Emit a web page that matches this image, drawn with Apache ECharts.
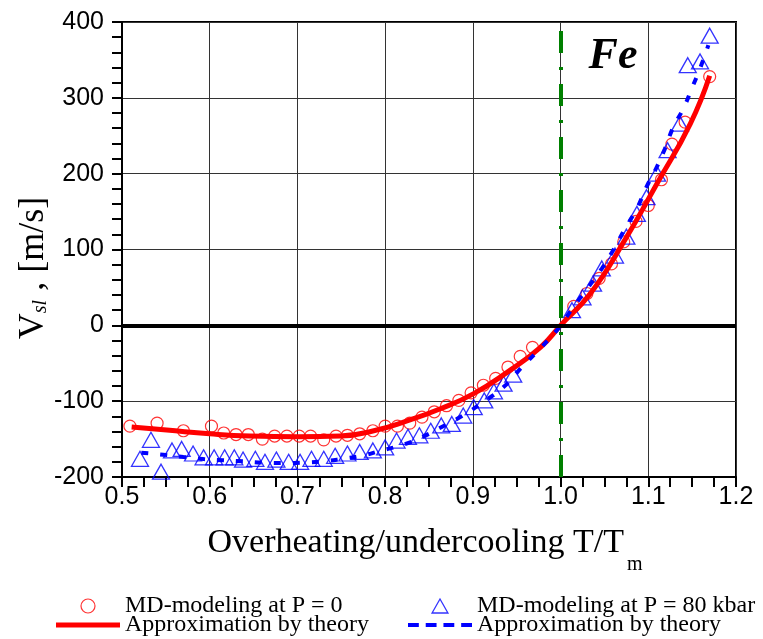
<!DOCTYPE html>
<html>
<head>
<meta charset="utf-8">
<script src="https://cdn.jsdelivr.net/npm/echarts@6/dist/echarts.min.js"></script>
<style>html,body{margin:0;padding:0;background:#fff;}#c{width:763px;height:639px;}</style>
</head>
<body>
<div id="c"></div>
<script>
// MD-modeling at P = 0 (red circles)
const xMd0 = [0.509,0.540,0.570,0.602,0.616,0.630,0.644,0.660,0.674,0.688,0.702,0.715,0.730,0.744,0.757,0.771,0.786,0.800,0.814,0.828,0.842,0.856,0.870,0.884,0.898,0.912,0.926,0.940,0.954,0.968,1.015,1.030,1.044,1.058,1.072,1.086,1.100,1.115,1.127,1.142,1.170];
const yMd0 = [-133,-129,-139,-133,-142,-144,-144,-150,-146,-146,-146,-146,-151,-146,-145,-143,-139,-133,-133,-129,-121,-114,-106,-99,-89,-79,-70,-55,-41,-29,25,42,62,81,110,137,158,192,239,268,328];
// MD-modeling at P = 80 kbar (blue triangles)
const xMd80 = [0.5205,0.533,0.5445,0.557,0.568,0.581,0.593,0.605,0.617,0.628,0.638,0.652,0.663,0.676,0.690,0.703,0.716,0.730,0.743,0.757,0.771,0.786,0.800,0.813,0.826,0.839,0.852,0.864,0.876,0.889,0.901,0.913,0.924,0.935,0.946,1.013,1.025,1.037,1.047,1.062,1.075,1.087,1.098,1.110,1.122,1.136,1.145,1.159,1.170];
const yMd80 = [-176,-151,-193,-165,-163,-169,-174,-174,-174,-174,-177,-176,-180,-177,-180,-180,-176,-176,-172,-169,-167,-165,-161,-152,-147,-145,-139,-132,-130,-119,-108,-99,-87,-77,-65,20,37,55,75,92,117,147,169,200,231,266,343,348,382];
// Approximation by theory, P = 0 (red solid)
const xTh0 = [0.511,0.551,0.600,0.646,0.701,0.749,0.787,0.825,0.863,0.901,0.939,0.977,1.000,1.034,1.072,1.110,1.148,1.170];
const yTh0 = [-134,-138,-143,-146,-147,-146,-139,-126,-110,-90,-62,-29,0,42,110,187,266,329];
// Approximation by theory, P = 80 kbar (blue dotted)
const xTh80 = [0.522,0.547,0.570,0.593,0.6155,0.638,0.661,0.684,0.707,0.7295,0.752,0.775,0.796,0.819,0.842,0.8645,0.887,0.912,0.935,0.956,0.9766,0.9957,1.000,1.0146,1.0317,1.047,1.060,1.0735,1.087,1.098,1.1097,1.119,1.1286,1.140,1.1496,1.159,1.1685];
const yTh80 = [-168,-170.6,-173.7,-176.4,-178,-179.4,-181,-181.6,-181,-179.4,-175.9,-171.5,-165,-158,-147.4,-134,-120,-101,-81.4,-55,-30.7,-6.6,0,24,50.5,74.8,99,127.6,154,182.5,208.8,233,261.6,285.9,312.3,338.7,369.4];
// axis ticks
const xTicks = {min: 0.5, max: 1.2, step: 0.1};
const yTicks = {min: -200, max: 400, step: 100};
const meltingPoint = 1.0;
const zeroLevel = 0;
const elementLabel = 'Fe';

const zip = (a, b) => a.map((v, i) => [v, b[i]]);
const RED = '#ff0000', BLUE = '#0000ff', GREEN = '#008000';
const SERIF = '"Liberation Serif", "Times New Roman", serif';
const SANS = '"Liberation Sans", Arial, sans-serif';

const chart = echarts.init(document.getElementById('c'), null, {renderer: 'canvas'});
const names = {
  md0: 'MD-modeling at P = 0',
  md80: 'MD-modeling at P = 80 kbar',
  th0: 'Approximation by theory',
  th80: 'Approximation by theory '
};
const solidIcon = 'path://M0,0h64v5h-64z';
const dotIcon = 'path://M0,0h11v4h-11zM18,0h11v4h-11zM36,0h11v4h-11zM54,0h11v4h-11z';
const triIcon = 'path://M8.5,0L17,15L0,15Z';
const circIcon = 'path://M12,6A6,6,0,1,1,0,6A6,6,0,1,1,12,6Z';
const legendCommon = {
  orient: 'vertical', itemWidth: 64, itemHeight: 14, itemGap: -5, top: 589, height: 100,
  formatter: n => n.trim(),
  textStyle: {fontFamily: SERIF, fontSize: 24, color: '#000'},
  selectedMode: false
};
chart.setOption({
  animation: false,
  backgroundColor: '#fff',
  grid: {left: 122, right: 27, top: 22, bottom: 162, show: true, borderColor: '#000', borderWidth: 2, backgroundColor: 'transparent'},
  xAxis: {
    type: 'value', min: xTicks.min, max: xTicks.max, interval: xTicks.step,
    axisLine: {onZero: false, lineStyle: {color: '#000', width: 2}},
    axisTick: {length: 10, lineStyle: {color: '#000', width: 2}},
    minorTick: {show: true, splitNumber: 4, length: 10, lineStyle: {color: '#000', width: 2}},
    splitLine: {show: true, lineStyle: {color: '#333', width: 1}},
    axisLabel: {formatter: v => v.toFixed(1), fontFamily: SANS, fontSize: 25, color: '#000', margin: 8}
  },
  yAxis: {
    type: 'value', min: yTicks.min, max: yTicks.max, interval: yTicks.step,
    axisLine: {onZero: false, lineStyle: {color: '#000', width: 2}},
    axisTick: {length: 10, lineStyle: {color: '#000', width: 2}},
    minorTick: {show: true, splitNumber: 5, length: 10, lineStyle: {color: '#000', width: 2}},
    splitLine: {show: true, lineStyle: {color: '#333', width: 1}},
    axisLabel: {fontFamily: SANS, fontSize: 25, color: '#000', margin: 18}
  },
  legend: [
    Object.assign({left: 51, data: [
      {name: names.md0, icon: circIcon, itemStyle: {color: 'rgba(0,0,0,0)', borderColor: RED, borderWidth: 1.2}},
      {name: names.th0, icon: solidIcon, itemStyle: {color: RED, borderWidth: 0}}
    ]}, legendCommon),
    Object.assign({left: 403, data: [
      {name: names.md80, icon: triIcon, itemStyle: {color: 'rgba(0,0,0,0)', borderColor: BLUE, borderWidth: 1.3}},
      {name: names.th80, icon: dotIcon, itemStyle: {color: BLUE, borderWidth: 0}}
    ]}, legendCommon)
  ],
  graphic: [
    {type: 'text', x: 613, y: 57, silent: true,
     style: {text: elementLabel, font: 'italic bold 44px ' + SERIF, fill: '#000', align: 'center', verticalAlign: 'middle'}},
    {type: 'text', x: 425, y: 526, silent: true,
     style: {text: '{m|Overheating/undercooling T/T}{s|m}', align: 'center', verticalAlign: 'top',
       rich: {m: {fontFamily: SERIF, fontSize: 34, lineHeight: 34, verticalAlign: 'top', fill: '#000', color: '#000'},
              s: {fontFamily: SERIF, fontSize: 20, lineHeight: 20, padding: [29, 0, 0, 3], verticalAlign: 'top', fill: '#000', color: '#000'}}}},
    {type: 'text', x: 16, y: 268, rotation: Math.PI / 2, silent: true,
     style: {text: '{v|V}{s|sl}{v| , [m/s]}', align: 'center', verticalAlign: 'top',
       rich: {v: {fontFamily: SERIF, fontSize: 36, lineHeight: 36, verticalAlign: 'top', fill: '#000', color: '#000'},
              s: {fontFamily: SERIF, fontSize: 20, fontStyle: 'italic', lineHeight: 20, padding: [15, 0, 0, 0], verticalAlign: 'top', fill: '#000', color: '#000'}}}}
  ],
  series: [
    {
      type: 'line', name: 'refs', data: [], silent: true,
      markLine: {
        silent: true, symbol: 'none', label: {show: false}, animation: false,
        data: [
          {yAxis: zeroLevel, lineStyle: {color: '#000', width: 4, type: 'solid'}},
          {xAxis: meltingPoint, lineStyle: {color: GREEN, width: 4, type: [22, 14, 3, 14]}}
        ]
      }
    },
    {
      type: 'scatter', name: names.md0, data: zip(xMd0, yMd0),
      symbol: 'circle', symbolSize: 12,
      itemStyle: {color: 'rgba(255,0,0,0)', borderColor: RED, borderWidth: 1.2}
    },
    {
      type: 'scatter', name: names.md80, data: zip(xMd80, yMd80),
      symbol: 'triangle', symbolSize: [17, 15],
      itemStyle: {color: 'rgba(0,0,255,0)', borderColor: BLUE, borderWidth: 1.3}
    },
    {
      type: 'line', name: names.th0, data: zip(xTh0, yTh0), smooth: true,
      symbol: 'none', showSymbol: false,
      lineStyle: {color: RED, width: 5}, itemStyle: {color: RED}
    },
    {
      type: 'line', name: names.th80, data: zip(xTh80, yTh80), smooth: true,
      symbol: 'none', showSymbol: false,
      lineStyle: {color: BLUE, width: 4, type: [7, 12], cap: 'butt'}, itemStyle: {color: BLUE}
    }
  ]
});
</script>
</body>
</html>
